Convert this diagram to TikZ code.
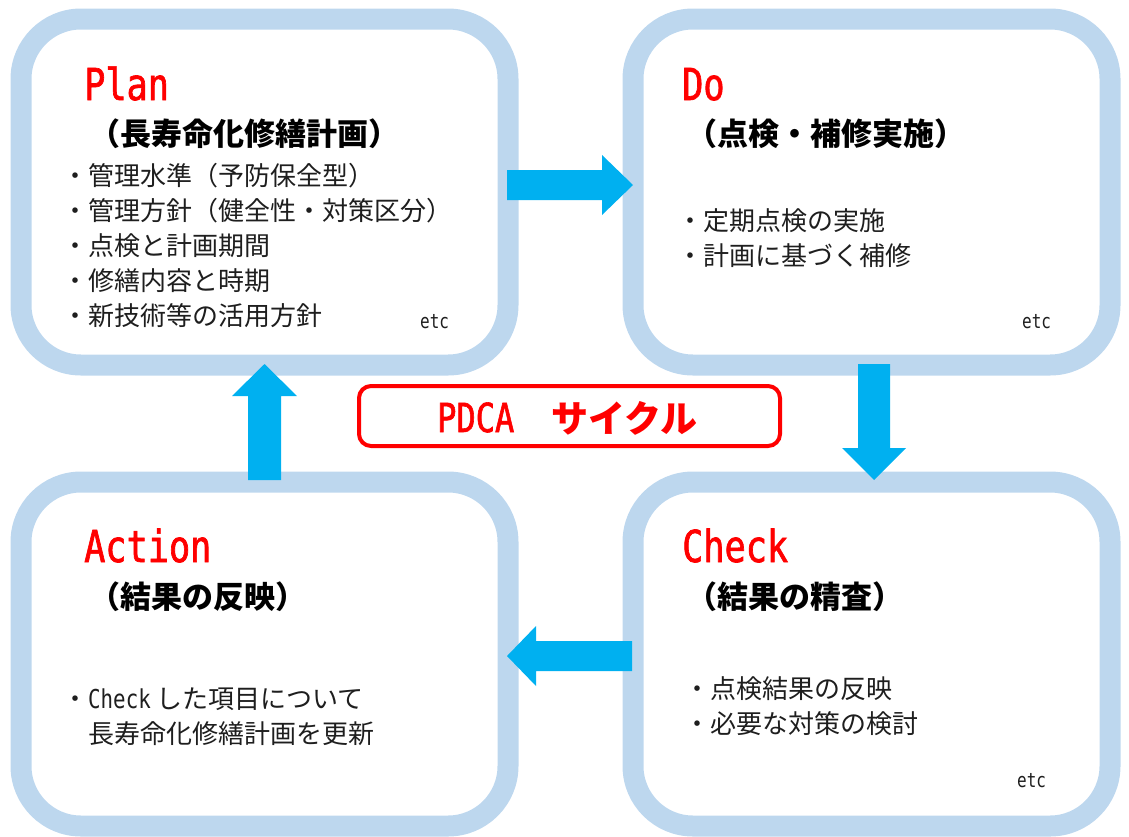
\documentclass[tikz,border=0pt]{standalone}
\usepackage{fontspec}
\newfontfamily\jp{Noto Sans CJK JP}
\newfontfamily\hd[FakeStretch=0.8]{DejaVu Sans Mono}
\newfontfamily\hdh[FakeStretch=0.8,FakeBold=1.5]{DejaVu Sans Mono}
\definecolor{boxblue}{RGB}{189,215,238}
\definecolor{flowcyan}{RGB}{0,176,240}
\definecolor{hdred}{RGB}{255,0,0}
\definecolor{bodytext}{RGB}{30,30,30}
\tikzset{
  phasebox/.style={draw=boxblue, line width=21pt, rounded corners=60pt, inner sep=0pt},
  flowarrow/.style={fill=flowcyan, draw=none},
  phasehead/.style={anchor=base west, inner sep=0pt, text=hdred, font=\hdh\fontsize{44}{44}\selectfont},
  phasesub/.style={anchor=base west, inner sep=0pt, text=black, font=\jp\bfseries\fontsize{31}{31}\selectfont},
  phaseitem/.style={anchor=base west, inner sep=0pt, text=bodytext, font=\jp\fontsize{26}{26}\selectfont},
  etclabel/.style={anchor=base west, inner sep=0pt, text=bodytext, font=\hd\fontsize{20}{20}\selectfont},
  cyclebox/.style={draw=hdred, line width=4pt, rounded corners=12pt, inner sep=0pt},
}
\begin{document}
\begin{tikzpicture}[x=1pt, y=-1pt]
\useasboundingbox (0,0) rectangle (1129,836);

% phase boxes
\node[phasebox, minimum width=487pt, minimum height=346pt] (plan) at (264.5,192) {};
\node[phasebox, minimum width=477pt, minimum height=346pt] (do) at (871.5,192) {};
\node[phasebox, minimum width=487pt, minimum height=344pt] (act) at (264.5,654) {};
\node[phasebox, minimum width=477pt, minimum height=344pt] (chk) at (871.5,654) {};

% PDCA label box
\node[cyclebox, minimum width=421pt, minimum height=60pt] (cyc) at (569.5,416) {};
\node[anchor=base west, inner sep=0pt, text=hdred] (cyctext) at (437,432)
  {{\hdh\fontsize{40}{40}\selectfont PDCA}{\jp\bfseries\fontsize{37}{37}\selectfont　サイクル}};

% flow arrows
\fill[flowarrow] (507,170) -- (602,170) -- (602,155) -- (633,185) -- (602,215) -- (602,200) -- (507,200) -- cycle;
\fill[flowarrow] (858,364) -- (890,364) -- (890,448) -- (906,448) -- (874,480) -- (842,448) -- (858,448) -- cycle;
\fill[flowarrow] (632,641) -- (632,671) -- (536,671) -- (536,686) -- (507,656) -- (536,626) -- (536,641) -- cycle;
\fill[flowarrow] (248,480) -- (281,480) -- (281,396) -- (297,396) -- (264.5,364) -- (232,396) -- (248,396) -- cycle;

% Plan
\node[phasehead] (planh) at (84,100) {Plan};
\node[phasesub] (plans) at (89,145) {（長寿命化修繕計画）};
\node[phaseitem] (plan1) at (62,185) {・管理水準（予防保全型）};
\node[phaseitem] (plan2) at (62,220) {・管理方針（健全性・対策区分）};
\node[phaseitem] (plan3) at (62,255) {・点検と計画期間};
\node[phaseitem] (plan4) at (62,290) {・修繕内容と時期};
\node[phaseitem] (plan5) at (62,325) {・新技術等の活用方針};
\node[etclabel] (plane) at (420,328) {etc};

% Do
\node[phasehead] (doh) at (682,100) {Do};
\node[phasesub] (dos) at (686,145) {（点検・補修実施）};
\node[phaseitem] (do1) at (677,230) {・定期点検の実施};
\node[phaseitem] (do2) at (677,265) {・計画に基づく補修};
\node[etclabel] (doe) at (1022,328) {etc};

% Action
\node[phasehead] (acth) at (84,562) {Action};
\node[phasesub] (acts) at (89,608) {（結果の反映）};
\node[phaseitem] (act1) at (62,708) {・{\hd\fontsize{26}{26}\selectfont Check} した項目について};
\node[phaseitem] (act2) at (88,743) {長寿命化修繕計画を更新};

% Check
\node[phasehead] (chkh) at (682,562) {Check};
\node[phasesub] (chks) at (686,608) {（結果の精査）};
\node[phaseitem] (chk1) at (684,698) {・点検結果の反映};
\node[phaseitem] (chk2) at (684,733) {・必要な対策の検討};
\node[etclabel] (chke) at (1017,787) {etc};
\end{tikzpicture}
\end{document}
